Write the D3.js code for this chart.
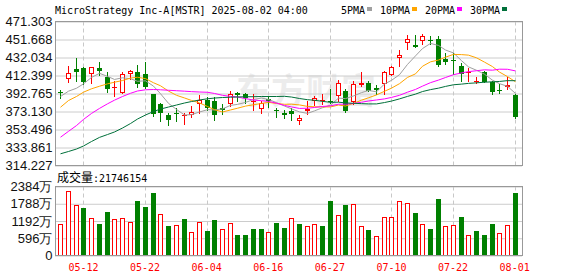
<!DOCTYPE html>
<html>
<head>
<meta charset="utf-8">
<script src="https://cdn.jsdelivr.net/npm/d3@7/dist/d3.min.js"></script>
<style>
html, body { margin: 0; padding: 0; background: #fff; }
svg { display: block; }
</style>
</head>
<body>
<svg id="chart" width="578" height="276"></svg>
<script>
// trading days shown (60 sessions)
const dates = ["05-07","05-08","05-09","05-12","05-13","05-14","05-15","05-16","05-19","05-20",
  "05-21","05-22","05-23","05-27","05-28","05-29","05-30","06-02","06-03","06-04",
  "06-05","06-06","06-09","06-10","06-11","06-12","06-13","06-16","06-17","06-18",
  "06-20","06-23","06-24","06-25","06-26","06-27","06-30","07-01","07-02","07-03",
  "07-07","07-08","07-09","07-10","07-11","07-14","07-15","07-16","07-17","07-18",
  "07-21","07-22","07-23","07-24","07-25","07-28","07-29","07-30","07-31","08-01"];

const open = [394.8,408.8,419.7,421.1,413.5,421.1,411.3,398.5,393.5,414.2,
  416.0,413.5,391.7,380.8,368.8,371.7,367.7,369.1,380.8,385.9,
  385.1,377.2,380.8,392.8,391.7,384.0,376.1,387.3,375.0,371.3,
  374.2,363.3,373.4,385.1,384.8,385.1,389.8,396.0,383.3,401.5,
  403.7,398.5,402.6,413.2,431.3,448.1,445.5,449.5,451.3,451.7,
  429.9,428.8,423.3,414.9,405.1,416.0,405.1,397.1,399.6,390.6];
const high = [397.1,423.3,431.3,422.2,422.2,426.9,416.0,406.9,416.0,418.6,
  424.1,426.6,391.7,381.9,371.3,377.2,371.3,378.6,390.6,388.7,
  388.7,380.8,395.3,394.2,393.1,391.7,385.1,389.5,377.2,375.0,
  377.2,368.8,384.4,389.5,392.4,397.9,407.7,397.9,405.9,416.0,
  405.9,401.5,417.1,423.3,439.7,457.1,457.1,457.9,455.0,455.3,
  437.2,436.9,425.8,420.8,411.3,416.8,405.9,403.3,410.5,391.7];
const low = [388.4,405.1,405.9,403.3,403.7,413.2,394.6,390.2,393.0,408.8,
  400.4,398.5,368.4,363.3,358.6,362.5,359.7,366.9,371.3,375.0,
  364.4,370.6,378.6,384.4,382.9,375.0,371.3,377.8,366.9,366.3,
  364.1,359.7,370.6,379.7,381.5,382.2,384.4,373.0,381.5,401.0,
  395.0,391.7,392.4,412.4,423.3,440.8,443.3,446.9,446.9,422.6,
  425.2,413.5,406.9,405.9,404.0,404.8,391.7,393.1,397.9,365.8];
const close = [394.0,414.9,415.7,404.8,421.7,417.1,397.5,399.6,413.5,416.8,
  403.3,399.6,370.6,372.0,364.4,370.6,368.8,372.8,386.2,377.2,
  368.8,375.0,391.7,391.3,387.6,385.1,382.9,384.4,374.2,368.8,
  369.9,366.3,376.1,388.1,385.9,384.0,404.4,373.4,402.6,404.0,
  396.0,397.1,416.0,422.2,435.3,451.7,444.0,456.0,450.2,424.1,
  426.9,427.7,414.2,416.0,405.9,405.1,394.8,395.5,401.5,366.9];
const prevClose = 387.0;

// volume, in 万 shares
const volume = [1082,2234,1735,1630,1281,1082,1501,1246,1281,1152,
  1885,1675,2164,1420,1012,1037,1246,803,1152,838,
  1222,932,1106,698,698,932,932,803,1117,942,
  1281,1082,1012,1082,1012,1885,1396,1745,1780,1012,
  873,687,1316,1316,1874,1804,1476,1082,907,1954,
  1012,1047,1326,722,838,698,1082,768,1037,2175];
const lastVolume = "21746154";

const ma5 = [389.5,395.3,398.5,403.3,410.3,414.8,411.4,408.1,409.9,408.9,
  406.1,406.6,400.8,392.5,382.0,375.4,369.3,369.7,372.6,375.1,
  374.8,376.0,379.8,380.9,383.0,386.2,387.8,386.3,382.8,379.1,
  376.0,372.7,371.1,373.8,377.3,380.1,387.7,387.2,390.1,393.7,
  396.1,394.6,403.1,407.1,413.3,424.5,433.8,441.8,447.4,445.2,
  440.2,437.0,428.6,421.8,418.1,413.8,407.3,403.5,400.6,392.8];
const ma10 = [377.8,385.1,389.5,394.2,397.9,400.7,403.3,405.1,406.9,409.6,
  410.5,409.0,404.5,401.2,395.4,390.8,387.9,385.2,382.5,378.6,
  375.1,372.6,374.8,376.7,379.0,380.5,381.9,383.1,381.9,381.0,
  381.1,380.3,378.7,378.3,378.2,378.1,380.2,379.1,382.0,385.5,
  388.1,391.2,395.2,398.6,403.5,410.3,414.2,422.5,427.3,429.3,
  432.4,435.4,435.2,434.6,431.7,427.0,422.1,416.1,411.2,405.5];
const ma20 = [345.1,351.5,357.8,364.5,371.0,376.5,381.5,385.5,389.5,393.0,
  395.5,396.8,397.1,396.8,396.3,395.8,395.3,394.8,394.4,394.1,
  392.8,390.8,389.6,388.9,387.2,385.6,384.9,384.2,382.2,379.8,
  378.1,376.5,376.7,377.5,378.6,379.3,381.1,381.1,381.9,383.2,
  384.6,385.7,386.9,388.5,390.8,394.2,397.2,400.8,404.6,407.4,
  410.2,413.3,415.2,416.6,417.6,418.6,418.2,419.3,419.2,417.4];
const ma30 = [327.0,329.5,332.2,335.5,340.4,344.9,348.0,350.8,355.1,360.0,
  364.9,369.3,373.1,375.8,378.0,380.2,382.4,384.0,385.7,387.0,
  387.8,388.4,388.7,389.0,389.2,389.3,389.5,389.5,389.5,389.7,
  388.9,387.3,386.0,385.4,384.2,383.1,383.3,382.5,382.1,381.7,
  381.4,381.4,382.9,384.5,386.9,389.6,392.1,394.9,397.0,398.6,
  400.5,402.3,403.0,403.8,404.4,405.1,405.5,405.9,406.8,406.7];

const priceTicks = [471.303,451.668,432.034,412.399,392.765,373.130,353.496,333.861,314.227];
const volTicks = [0,596,1192,1788,2384];
const tickDates = ["05-12","05-22","06-04","06-16","06-27","07-10","07-22","08-01"];
const legendLabels = ["5PMA","10PMA","20PMA","30PMA"];
const title = "MicroStrategy Inc-A[MSTR] 2025-08-02 04:00";

const RED = "#ff0000", GREEN = "#008000";
const maColors = ["#a0a0a0", "#ffa500", "#ff00ff", "#00703a"];
const mono = "'DejaVu Sans Mono', monospace";
const sans = "'Liberation Sans', Arial, sans-serif";

const svg = d3.select("#chart");
const left = 55.5, right = 522.5;
const pTop = 21.5, pBot = 165.5, vTop = 186.5, vBot = 255.5;

const x = d3.scaleBand().domain(dates).range([56.5, 518.5]);
const cx = d => Math.round(x(d) + x.bandwidth() / 2);
const y = d3.scaleLinear().domain([314.227, 471.303]).range([pBot, pTop]);
const yv = d3.scaleLinear().domain([0, 2384]).range([vBot, vTop]);

// title and legend
svg.append("text").attr("x", 55).attr("y", 14)
  .attr("font-family", mono).attr("font-size", 10).attr("fill", "#000")
  .text(title);

let lx = 341;
legendLabels.forEach((lab, k) => {
  svg.append("text").attr("x", lx).attr("y", 14)
    .attr("font-family", mono).attr("font-size", 10).attr("fill", "#000").text(lab);
  const w = lab.length * 6.02;
  svg.append("rect").attr("x", Math.round(lx + w + 2)).attr("y", 7)
    .attr("width", 5).attr("height", 4).attr("fill", maColors[k]);
  lx = Math.round(lx + w + 2 + 5 + 8);
});

// watermark
svg.append("text").attr("x", 236).attr("y", 104)
  .attr("font-family", "'Noto Sans CJK SC', sans-serif").attr("font-size", 35)
  .attr("font-weight", "bold").attr("fill", "#000").attr("opacity", 0.07)
  .text("东方财富");

// horizontal gridlines
function grid(scale, ticks) {
  const g = svg.append("g").attr("transform", `translate(${left - 0.5},0)`)
    .call(d3.axisLeft(scale).tickValues(ticks).tickSize(-(right - left)).tickFormat(""));
  g.select(".domain").remove();
  g.selectAll("line").attr("stroke", "#cccccc");
}
grid(y, priceTicks);
grid(yv, volTicks);

// vertical dashed lines at labelled dates
[[pTop, pBot], [vTop, vBot]].forEach(([t, b]) => {
  svg.append("g").selectAll("line").data(tickDates).join("line")
    .attr("x1", d => cx(d) + 0.5).attr("x2", d => cx(d) + 0.5)
    .attr("y1", t).attr("y2", b)
    .attr("stroke", "#c8c8c8").attr("stroke-dasharray", "4,3");
});

// candles
const idx = d3.range(dates.length);
const candles = svg.append("g").attr("shape-rendering", "crispEdges");
idx.forEach(i => {
  const c = cx(dates[i]);
  const up = close[i] > open[i];
  const col = up ? RED : GREEN;
  candles.append("line").attr("x1", c + 0.5).attr("x2", c + 0.5)
    .attr("y1", Math.round(y(high[i]))).attr("y2", Math.round(y(low[i])) + 1)
    .attr("stroke", col);
  const top = Math.round(y(Math.max(open[i], close[i])));
  const bot = Math.round(y(Math.min(open[i], close[i])));
  const h = Math.max(1, bot - top);
  if (up && h > 2) {
    candles.append("rect").attr("x", c - 1.5).attr("y", top + 0.5)
      .attr("width", 4).attr("height", h - 1)
      .attr("fill", "#fff").attr("stroke", col);
  } else {
    candles.append("rect").attr("x", c - 2).attr("y", top)
      .attr("width", 5).attr("height", h).attr("fill", col);
  }
});

// moving averages
const line = d3.line().x((d, i) => cx(dates[i]) + 0.5).y(d => y(d));
[ma5, ma10, ma20, ma30].forEach((arr, k) => {
  svg.append("path").datum(arr).attr("d", line)
    .attr("fill", "none").attr("stroke", maColors[k]).attr("stroke-width", 1);
});

// volume bars, coloured by change from previous close
const vols = svg.append("g").attr("shape-rendering", "crispEdges");
idx.forEach(i => {
  const c = cx(dates[i]);
  const up = close[i] >= (i ? close[i - 1] : prevClose);
  const top = Math.round(yv(volume[i]));
  const bot = Math.round(yv(0));
  if (up) {
    vols.append("rect").attr("x", c - 1.5).attr("y", top + 0.5)
      .attr("width", 4).attr("height", bot - top - 1)
      .attr("fill", "#fff").attr("stroke", RED);
  } else {
    vols.append("rect").attr("x", c - 2).attr("y", top)
      .attr("width", 5).attr("height", bot - top).attr("fill", GREEN);
  }
});

// volume caption
const cap = svg.append("text").attr("x", 57).attr("y", 181.5).attr("fill", "#000");
cap.append("tspan").attr("font-family", "'Noto Sans CJK SC', sans-serif").attr("font-size", 12).text("成交量");
cap.append("tspan").attr("font-family", mono).attr("font-size", 10).text(":" + lastVolume);

// panel frames
[[pTop, pBot], [vTop, vBot]].forEach(([t, b]) => {
  svg.append("rect").attr("x", left).attr("y", t)
    .attr("width", right - left).attr("height", b - t)
    .attr("fill", "none").attr("stroke", "#999999");
});

// y axis labels
const py = svg.append("g").attr("transform", `translate(${left},0)`)
  .call(d3.axisLeft(y).tickValues(priceTicks).tickSize(0).tickPadding(3).tickFormat(d3.format(".3f")));
const vy = svg.append("g").attr("transform", `translate(${left},0)`)
  .call(d3.axisLeft(yv).tickValues(volTicks).tickSize(0).tickPadding(3)
    .tickFormat(d => d === 0 ? "0" : d + "万"));
[py, vy].forEach(g => {
  g.select(".domain").remove();
  g.attr("font-family", sans).attr("font-size", 13);
  g.selectAll("text").attr("fill", "#111");
});

// x axis labels
const xa = svg.append("g").attr("transform", `translate(0,${vBot})`)
  .call(d3.axisBottom(x).tickValues(tickDates).tickSize(0).tickPadding(8));
xa.select(".domain").remove();
xa.attr("font-family", mono).attr("font-size", 10);
xa.selectAll("text").attr("fill", RED);
</script>
</body>
</html>
